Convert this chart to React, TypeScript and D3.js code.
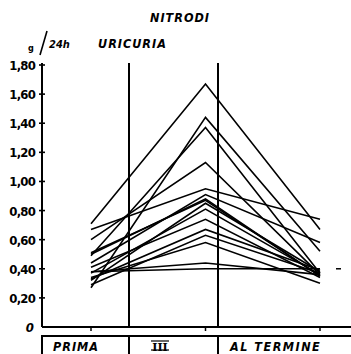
import React from "react";
import * as d3 from "d3";

// Uric acid excretion (g / 24h) per subject, at three moments of the cure
const phases = ["PRIMA", "III", "AL TERMINE"];
const prima = [0.71, 0.27, 0.49, 0.60, 0.67, 0.44, 0.51, 0.32, 0.37, 0.41, 0.29, 0.34, 0.38, 0.38, 0.50, 0.33];
const terza = [1.67, 1.44, 1.37, 1.13, 0.95, 0.91, 0.87, 0.85, 0.81, 0.74, 0.63, 0.58, 0.44, 0.40, 0.88, 0.67];
const termine = [0.67, 0.52, 0.37, 0.36, 0.74, 0.58, 0.35, 0.38, 0.36, 0.34, 0.37, 0.30, 0.36, 0.40, 0.35, 0.39];
const yTicks = [0, 0.2, 0.4, 0.6, 0.8, 1.0, 1.2, 1.4, 1.6, 1.8];

const W = 351;
const H = 354;
const axisX = 42;
const baseY = 327;
const dividers = [129, 218];
const boxTop = 336;

const font = "'DejaVu Sans Condensed', 'DejaVu Sans', sans-serif";

export default function App() {
  const x = d3.scalePoint<string>().domain(phases).range([91, 320]);
  const y = d3.scaleLinear().domain([0, 1.8]).range([baseY, 65]);
  const line = d3
    .line<[string, number]>()
    .x((d) => x(d[0]) as number)
    .y((d) => y(d[1]));

  const series = prima.map((p, i) => [
    [phases[0], p],
    [phases[1], terza[i]],
    [phases[2], termine[i]],
  ] as [string, number][]);

  const fmt = (v: number) => (v === 0 ? "0" : v.toFixed(2).replace(".", ","));

  return (
    <svg
      width={W}
      height={H}
      style={{ position: "absolute", left: 0, top: 0, background: "#fff" }}
      fontFamily={font}
    >
      <rect width={W} height={H} fill="#fff" />
      {/* titles */}
      <text x={180} y={22} textAnchor="middle" fontSize={12.5} fontWeight="bold" fontStyle="italic" letterSpacing={1}>
        NITRODI
      </text>
      <text x={28} y={51} fontSize={9} fontWeight="bold">g</text>
      <line x1={40} y1={55} x2={47} y2={31} stroke="#000" strokeWidth={1.6} />
      <text x={49} y={48} fontSize={11} fontWeight="bold" fontStyle="italic">24h</text>
      <text x={98} y={48} fontSize={12.5} fontWeight="bold" fontStyle="italic" letterSpacing={1}>
        URICURIA
      </text>

      {/* y axis */}
      <line x1={axisX} y1={y(1.8) - 2} x2={axisX} y2={baseY} stroke="#000" strokeWidth={2} />
      {yTicks.map((t) => (
        <g key={t}>
          {t > 0 && <line x1={axisX - 3} x2={axisX + 3} y1={y(t)} y2={y(t)} stroke="#000" strokeWidth={1.6} />}
          <text
            x={t === 0 ? 33 : 35}
            y={y(t) + 5}
            textAnchor="end"
            fontSize={t === 0 ? 13 : 13}
            fontWeight="bold"
            fontStyle={t === 0 ? "italic" : "normal"}
            letterSpacing={-0.8}
          >
            {fmt(t)}
          </text>
        </g>
      ))}

      {/* x axis baseline and phase ticks */}
      <line x1={axisX} x2={W} y1={baseY} y2={baseY} stroke="#000" strokeWidth={2} />
      {phases.map((p) => (
        <line key={p} x1={x(p)} x2={x(p)} y1={baseY} y2={baseY + 4} stroke="#000" strokeWidth={1.5} />
      ))}

      {/* phase dividers */}
      {dividers.map((dx) => (
        <line key={dx} x1={dx} x2={dx} y1={y(1.8) - 2} y2={baseY} stroke="#000" strokeWidth={2} />
      ))}

      {/* subject lines */}
      {series.map((s, i) => (
        <path key={i} d={line(s) as string} fill="none" stroke="#000" strokeWidth={1.6} strokeLinejoin="miter" />
      ))}

      <line x1={336} x2={341} y1={y(0.4)} y2={y(0.4)} stroke="#000" strokeWidth={1.5} />

      {/* phase label box */}
      <rect x={axisX} y={boxTop} width={W - axisX + 2} height={H - boxTop + 2} fill="none" stroke="#000" strokeWidth={2} />
      {dividers.map((dx) => (
        <line key={dx} x1={dx} x2={dx} y1={boxTop} y2={H} stroke="#000" strokeWidth={2} />
      ))}
      <text x={53} y={351} fontSize={12.5} fontWeight="bold" fontStyle="italic" letterSpacing={1}>PRIMA</text>
      <text x={160} y={351} textAnchor="middle" fontSize={11} fontWeight="bold" fontFamily="'DejaVu Serif', serif">III</text>
      <line x1={151} x2={169} y1={341} y2={341} stroke="#000" strokeWidth={1.2} />
      <line x1={151} x2={169} y1={350} y2={350} stroke="#000" strokeWidth={1.2} />
      <text x={230} y={351} fontSize={12.5} fontWeight="bold" fontStyle="italic" letterSpacing={1.5}>AL TERMINE</text>
    </svg>
  );
}
